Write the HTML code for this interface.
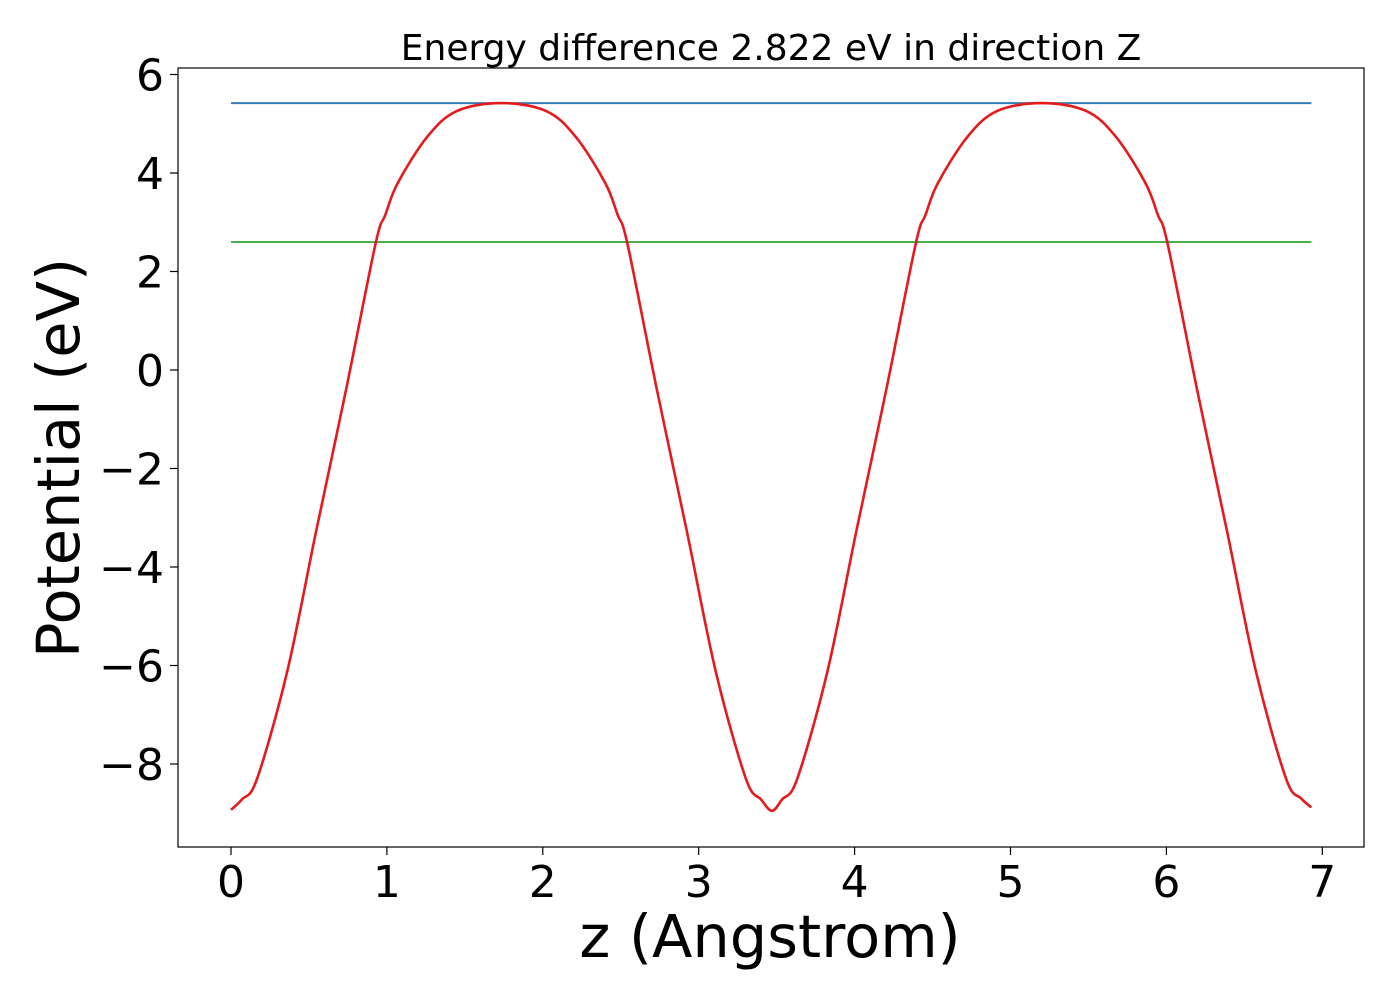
<!DOCTYPE html>
<html><head><meta charset="utf-8"><style>
body{margin:0;background:#fff}
svg text{font-family:"DejaVu Sans","Liberation Sans",sans-serif;fill:#000}
</style></head><body>
<svg id="chart" width="1400" height="1000" xmlns="http://www.w3.org/2000/svg">
<rect width="1400" height="1000" fill="#fff"/>
<text x="771" y="60" font-size="36" text-anchor="middle">Energy difference 2.822 eV in direction Z</text>
<g id="plot"></g>
<rect x="178" y="68" width="1186" height="779" fill="none" stroke="#000" stroke-width="1.2"/>
<g id="xt"></g><g id="yt"></g>
<text x="770" y="957" font-size="59" text-anchor="middle">z (Angstrom)</text>
<text transform="translate(79,458) rotate(-90)" font-size="59" text-anchor="middle">Potential (eV)</text>
</svg>
<script>
const zVals=[0,0.07,0.167,0.36,0.545,0.74,0.927,0.99,1.07,1.26,1.45,1.735,2.02,2.21,2.40,2.48,2.543,2.73,2.925,3.11,3.303,3.40,3.47,3.535,3.632,3.825,4.01,4.205,4.392,4.455,4.535,4.725,4.915,5.20,5.485,5.675,5.865,5.945,6.008,6.195,6.39,6.575,6.768,6.865,6.93];
const potVals=[-8.93,-8.72,-8.3,-6.13,-3.29,-0.37,2.56,3.15,3.8,4.74,5.26,5.42,5.26,4.74,3.8,3.15,2.56,-0.37,-3.29,-6.13,-8.3,-8.72,-8.95,-8.72,-8.3,-6.13,-3.29,-0.37,2.56,3.15,3.8,4.74,5.26,5.42,5.26,4.74,3.8,3.15,2.56,-0.37,-3.29,-6.13,-8.3,-8.7,-8.88];
const vacuumLevel=5.42;
const fermiLevel=2.60;
const xTicks=[0,1,2,3,4,5,6,7];
const yTicks=[-8,-6,-4,-2,0,2,4,6];
const yTickLabels=["\u22128","\u22126","\u22124","\u22122","0","2","4","6"];
const X=z=>231+z*155.9;
const Y=v=>370-v*49.25;
const NS="http://www.w3.org/2000/svg";
const plot=document.getElementById('plot');
function line(x1,y1,x2,y2,c,name){const l=document.createElementNS(NS,'line');
l.setAttribute('x1',x1);l.setAttribute('y1',y1);l.setAttribute('x2',x2);l.setAttribute('y2',y2);
l.setAttribute('stroke',c);l.setAttribute('stroke-width',2);


return l;}
const zMax=zVals[zVals.length-1];
plot.appendChild(line(X(0),Y(vacuumLevel),X(zMax),Y(vacuumLevel),'#377eb8','vacuum-level-line'));
plot.appendChild(line(X(0),Y(fermiLevel),X(zMax),Y(fermiLevel),'#4daf4a','fermi-level-line'));
const pts=zVals.map((z,i)=>[X(z),Y(potVals[i])]);
let d='M'+pts[0][0]+','+pts[0][1];
for(let i=0;i<pts.length-1;i++){const p0=pts[Math.max(0,i-1)],p1=pts[i],p2=pts[i+1],p3=pts[Math.min(pts.length-1,i+2)];
d+=' C'+(p1[0]+(p2[0]-p0[0])/6)+','+(p1[1]+(p2[1]-p0[1])/6)+' '+(p2[0]-(p3[0]-p1[0])/6)+','+(p2[1]-(p3[1]-p1[1])/6)+' '+p2[0]+','+p2[1];}
const path=document.createElementNS(NS,'path');
path.setAttribute('d',d);path.setAttribute('fill','none');path.setAttribute('stroke','#e41a1c');path.setAttribute('stroke-width',2.6);


plot.appendChild(path);
const xt=document.getElementById('xt');
xTicks.forEach(t=>{const l=line(X(t),847,X(t),855,'#000','x-tick');l.setAttribute('stroke-width',1.2);xt.appendChild(l);
const tx=document.createElementNS(NS,'text');tx.setAttribute('x',X(t));tx.setAttribute('y',897);tx.setAttribute('font-size',44);tx.setAttribute('text-anchor','middle');tx.textContent=t;


xt.appendChild(tx);});
const yt=document.getElementById('yt');
yTicks.forEach((t,i)=>{const l=line(170,Y(t),178,Y(t),'#000','y-tick');l.setAttribute('stroke-width',1.2);yt.appendChild(l);
const tx=document.createElementNS(NS,'text');tx.setAttribute('x',164);tx.setAttribute('y',Y(t)+16);tx.setAttribute('font-size',44);tx.setAttribute('text-anchor','end');tx.textContent=yTickLabels[i];


yt.appendChild(tx);});
</script>
</body></html>
